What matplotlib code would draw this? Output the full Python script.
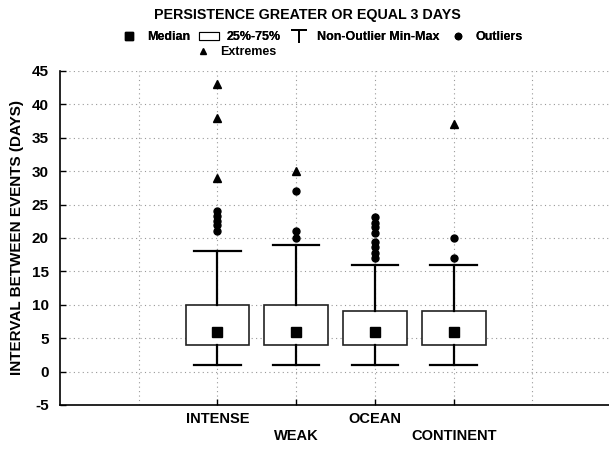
import matplotlib
matplotlib.use("Agg")
from matplotlib import pyplot as plt
from matplotlib.lines import Line2D
from matplotlib.patches import Patch

plt.rcParams['font.family'] = ['Liberation Sans', 'DejaVu Sans']
plt.rcParams['font.weight'] = 'bold'
plt.rcParams['axes.unicode_minus'] = False

categories = ["INTENSE", "WEAK", "OCEAN", "CONTINENT"]
medians = [6, 6, 6, 6]
q1 = [4, 4, 4, 4]
q3 = [10, 10, 9, 9]
whisk_lo = [1, 1, 1, 1]
whisk_hi = [18, 19, 16, 16]
outliers = [
    [21, 22, 22.5, 23.3, 24],
    [20, 21, 27],
    [17, 17.8, 18.6, 19.4, 20.8, 21.6, 22.3, 23.1],
    [17, 20],
]
extremes = [
    [29, 38, 43],
    [30],
    [],
    [37],
]

positions = [1, 2, 3, 4]

fig = plt.figure(figsize=(6.09, 4.49), dpi=100)
ax = fig.add_axes([0.0985, 0.098, 0.905, 0.744])

stats = []
for i, name in enumerate(categories):
    stats.append(dict(label=name, med=medians[i], q1=q1[i], q3=q3[i],
                      whislo=whisk_lo[i], whishi=whisk_hi[i], fliers=[]))

ax.bxp(stats, positions=positions, widths=0.81, showfliers=False,
       patch_artist=True,
       boxprops=dict(facecolor='white', edgecolor='#222222', linewidth=1.2),
       whiskerprops=dict(color='black', linewidth=1.6),
       capprops=dict(color='black', linewidth=1.6),
       medianprops=dict(linestyle='none'),
       capwidths=0.59, zorder=3)

ax.plot(positions, medians, 's', color='black', markersize=6.5, zorder=4)
for i, p in enumerate(positions):
    ax.plot([p] * len(outliers[i]), outliers[i], 'o', color='black',
            markersize=5, zorder=4)
    if extremes[i]:
        ax.plot([p] * len(extremes[i]), extremes[i], '^', color='black',
                markersize=5.5, zorder=4)

ax.set_xlim(-1, 6)
ax.set_ylim(-5, 45)
ax.set_yticks(range(-5, 50, 5))
ax.set_xticks(positions)
ax.set_xticklabels([c if i % 2 == 0 else "\n" + c for i, c in enumerate(categories)],
                   fontsize=10.5, fontweight='bold', linespacing=1.25)
ax.set_xticks([0, 1, 2, 3, 4, 5], minor=True)
ax.tick_params(axis='y', labelsize=11, direction='in', length=4, width=1, pad=8)
ax.tick_params(axis='x', which='major', direction='in', length=4, width=1, pad=5)
ax.tick_params(axis='x', which='minor', length=0)
for lab in ax.get_yticklabels():
    lab.set_fontweight('bold')

ax.grid(True, which='both', axis='x', linestyle=(0, (1, 3)), color='#999999', linewidth=0.8)
ax.grid(True, which='major', axis='y', linestyle=(0, (1, 3)), color='#999999', linewidth=0.8)
ax.set_axisbelow(True)
for s in ['top', 'right']:
    ax.spines[s].set_visible(False)
ax.spines['left'].set_linewidth(1.2)
ax.spines['bottom'].set_linewidth(1.2)

ax.set_ylabel("INTERVAL BETWEEN EVENTS (DAYS)", fontsize=11, fontweight='bold', labelpad=6)

fig.text(0.504, 0.967, "PERSISTENCE GREATER OR EQUAL 3 DAYS", ha='center', va='center',
         fontsize=10.3, fontweight='bold')

handles = [
    Line2D([], [], marker='s', color='black', linestyle='none', markersize=6),
    Patch(facecolor='white', edgecolor='black', linewidth=0.8),
    Line2D([], [], marker=r'$\top$', color='black', linestyle='none', markersize=11,
           markeredgewidth=0),
    Line2D([], [], marker='o', color='black', linestyle='none', markersize=4.5),
]
labels = ["Median", "25%-75%", "Non-Outlier Min-Max", "Outliers"]
leg1 = fig.legend(handles, labels, loc='center', bbox_to_anchor=(0.527, 0.917), ncol=4,
                  frameon=False, fontsize=9, handlelength=1.6, handletextpad=0.6,
                  columnspacing=0.7, borderpad=0)
fig.add_artist(leg1)
fig.legend([Line2D([], [], marker='^', color='black', linestyle='none', markersize=4.5)],
           ["Extremes"], loc='center', bbox_to_anchor=(0.385, 0.884), frameon=False,
           fontsize=9, handlelength=1.6, handletextpad=0.6, borderpad=0)

fig.savefig("out.png", dpi=100)
